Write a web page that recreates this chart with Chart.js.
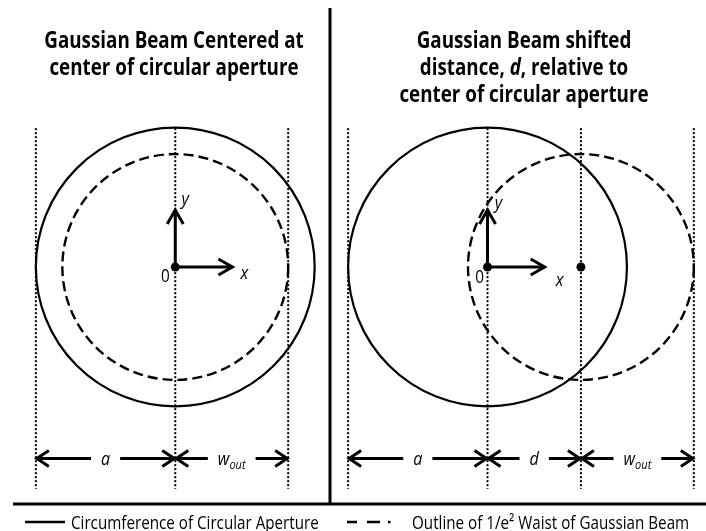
<!DOCTYPE html>
<html>
<head>
<meta charset="utf-8">
<script src="https://cdn.jsdelivr.net/npm/chart.js@4.4.1/dist/chart.umd.min.js"></script>
<style>
  html, body { margin: 0; padding: 0; background: #fff; }
  canvas { display: block; }
</style>
</head>
<body>
<canvas id="diagram" width="706" height="531"></canvas>
<script>
// geometry, in units of the aperture radius a
const panelTitles = [
  ["Gaussian Beam Centered at", "center of circular aperture"],
  ["Gaussian Beam shifted", "distance, *d*, relative to", "center of circular aperture"],
];
const panelCenters = [0, 2.24]; // aperture centre of each panel
const beamShifts = [0, 0.67]; // d
const apertureRadius = 1.0; // a
const beamRadius = 0.81; // w_out
const legendLabels = [
  "Circumference of Circular Aperture",
  "Outline of 1/e\u00b2 Waist of Gaussian Beam",
];

const guideTop = 1.0,
  guideBottom = -1.6,
  dimY = -1.38,
  axisLen = 0.41;

const FONT = '"Open Sans", "Liberation Sans", sans-serif';
const SX = 0.8; // squeeze Open Sans towards the narrower original face

// vertical guide lines at every edge / centre
const guideXs = [];
panelCenters.forEach((c, i) => {
  guideXs.push(c - apertureRadius, c);
  if (beamShifts[i]) guideXs.push(c + beamShifts[i]);
  guideXs.push(c + beamShifts[i] + beamRadius);
});

const datasets = [];
guideXs.forEach((gx) => {
  datasets.push({
    data: [{ x: gx, y: guideTop }, { x: gx, y: guideBottom }],
    showLine: true,
    borderColor: "#000",
    borderWidth: 2,
    borderDash: [2, 2],
    pointRadius: 0,
  });
});
panelCenters.forEach((c) => {
  datasets.push({
    data: [{ x: c, y: axisLen }, { x: c, y: 0 }, { x: c + axisLen, y: 0 }],
    showLine: true,
    borderColor: "#000",
    borderWidth: 3,
    borderJoinStyle: "miter",
    pointRadius: 0,
  });
});
const dots = panelCenters.map((c) => ({ x: c, y: 0 }));
panelCenters.forEach((c, i) => {
  if (beamShifts[i]) dots.push({ x: c + beamShifts[i], y: 0 });
});
datasets.push({
  data: dots,
  pointRadius: 4.5,
  pointBackgroundColor: "#000",
  pointBorderWidth: 0,
});

function chevron(ctx, tx, ty, dx, dy, len, half) {
  const px = -dy, py = dx;
  ctx.beginPath();
  ctx.moveTo(tx - dx * len + px * half, ty - dy * len + py * half);
  ctx.lineTo(tx, ty);
  ctx.lineTo(tx - dx * len - px * half, ty - dy * len - py * half);
  ctx.stroke();
}

// text made of segments; "*...*" marks italic parts
function richWidth(ctx, segs) {
  let w = 0;
  segs.forEach((s) => {
    ctx.font = s.font;
    w += ctx.measureText(s.text).width;
  });
  return w;
}
function drawSegs(ctx, segs, x, y, align, sx) {
  const w = richWidth(ctx, segs) * sx;
  let start = align === "center" ? x - w / 2 : x;
  ctx.save();
  ctx.translate(start, y);
  ctx.scale(sx, 1);
  let cx = 0;
  segs.forEach((s) => {
    ctx.font = s.font;
    ctx.fillText(s.text, cx, s.dy || 0);
    cx += ctx.measureText(s.text).width;
  });
  ctx.restore();
  return w;
}
function parseMarkup(str, weight, size) {
  return str.split("*").map((t, k) => ({
    text: t,
    font: `${k % 2 ? "italic " : ""}${weight} ${size}px ${FONT}`,
  })).filter((s) => s.text);
}
function dimLabel(name) {
  const it = (sz) => `italic 400 ${sz}px ${FONT}`;
  if (name === "w_out")
    return [{ text: "w", font: it(19) }, { text: "out", font: it(13), dy: 4 }];
  return [{ text: name, font: it(19) }];
}

const diagram = {
  id: "diagram",
  beforeDatasetsDraw(chart) {
    const { ctx, scales: { x, y } } = chart;
    const unit = x.getPixelForValue(1) - x.getPixelForValue(0);
    const cy = y.getPixelForValue(0);
    ctx.save();
    ctx.strokeStyle = "#000";
    panelCenters.forEach((c, i) => {
      ctx.lineWidth = 2.2;
      ctx.setLineDash([]);
      ctx.beginPath();
      ctx.arc(x.getPixelForValue(c), cy, apertureRadius * unit, 0, Math.PI * 2);
      ctx.stroke();
      ctx.lineWidth = 2.4;
      ctx.setLineDash([10, 5]);
      ctx.beginPath();
      ctx.arc(x.getPixelForValue(c + beamShifts[i]), cy, beamRadius * unit, 0, Math.PI * 2);
      ctx.stroke();
    });
    ctx.restore();
  },
  afterDatasetsDraw(chart) {
    const { ctx, scales: { x, y } } = chart;
    const cy = y.getPixelForValue(0);
    const ay = y.getPixelForValue(dimY);
    ctx.save();
    ctx.strokeStyle = "#000";
    ctx.fillStyle = "#000";
    ctx.lineJoin = "miter";
    ctx.textBaseline = "alphabetic";

    panelCenters.forEach((c, i) => {
      const ox = x.getPixelForValue(c);
      // axis arrowheads and labels
      ctx.lineWidth = 3;
      chevron(ctx, ox, y.getPixelForValue(axisLen), 0, -1, 14, 8);
      chevron(ctx, x.getPixelForValue(c + axisLen), cy, 1, 0, 14, 8);
      const off = i ? { zero: [-8, 16], y: [11, -58], x: [72, 19] } : { zero: [-10, 15], y: [10, -62], x: [69, 12] };
      drawSegs(ctx, [{ text: "0", font: `400 18px ${FONT}` }], ox + off.zero[0], cy + off.zero[1], "center", 0.85);
      drawSegs(ctx, [{ text: "y", font: `italic 400 19px ${FONT}` }], ox + off.y[0], cy + off.y[1], "center", 0.85);
      drawSegs(ctx, [{ text: "x", font: `italic 400 19px ${FONT}` }], ox + off.x[0], cy + off.x[1], "center", 0.85);

      // dimension arrows
      const d = beamShifts[i];
      const spans = [[c - apertureRadius, c, "a"]];
      if (d) spans.push([c, c + d, "d"]);
      spans.push([c + d, c + d + beamRadius, "w_out"]);
      spans.forEach(([x0, x1, name]) => {
        const p0 = x.getPixelForValue(x0), p1 = x.getPixelForValue(x1);
        const mid = (p0 + p1) / 2;
        const segs = dimLabel(name);
        const half = (richWidth(ctx, segs) * 0.85) / 2 + 10;
        ctx.lineWidth = 3;
        ctx.beginPath();
        ctx.moveTo(p0 + 1, ay);
        ctx.lineTo(mid - half, ay);
        ctx.moveTo(mid + half, ay);
        ctx.lineTo(p1 - 1, ay);
        ctx.stroke();
        chevron(ctx, p0 + 1, ay, -1, 0, 12, 8);
        chevron(ctx, p1 - 1, ay, 1, 0, 12, 8);
        drawSegs(ctx, segs, mid, ay + 7, "center", 0.85);
      });

      // panel title
      const tx = i ? 524 : 174;
      panelTitles[i].forEach((line, k) => {
        drawSegs(ctx, parseMarkup(line, 700, 23.5), tx, 48 + k * 27, "center", SX);
      });
    });

    // frame: divider and bottom rule
    ctx.lineWidth = 3;
    ctx.setLineDash([]);
    ctx.beginPath();
    ctx.moveTo(330, 8);
    ctx.lineTo(330, 504);
    ctx.moveTo(13, 504);
    ctx.lineTo(706, 504);
    ctx.stroke();

    // legend
    const ly = 522;
    ctx.lineWidth = 2.5;
    ctx.beginPath();
    ctx.moveTo(25, ly);
    ctx.lineTo(65, ly);
    ctx.stroke();
    drawSegs(ctx, [{ text: legendLabels[0], font: `400 19px ${FONT}` }], 71, ly + 6.5, "left", SX);
    ctx.beginPath();
    ctx.moveTo(347, ly);
    ctx.lineTo(357, ly);
    ctx.moveTo(367, ly);
    ctx.lineTo(380, ly);
    ctx.stroke();
    ctx.fillRect(388, ly - 1.2, 2.5, 2.5);
    drawSegs(ctx, [{ text: legendLabels[1], font: `400 19px ${FONT}` }], 412, ly + 6.5, "left", SX);
    ctx.restore();
  },
};

new Chart(document.getElementById("diagram"), {
  type: "scatter",
  data: { datasets },
  options: {
    responsive: false,
    animation: false,
    layout: { padding: 0 },
    scales: {
      x: { type: "linear", display: false, min: -1.225, max: 3.775 },
      y: { type: "linear", display: false, min: -1.87, max: 1.891 },
    },
    plugins: { legend: { display: false }, tooltip: { enabled: false } },
  },
  plugins: [diagram],
});
</script>
</body>
</html>
